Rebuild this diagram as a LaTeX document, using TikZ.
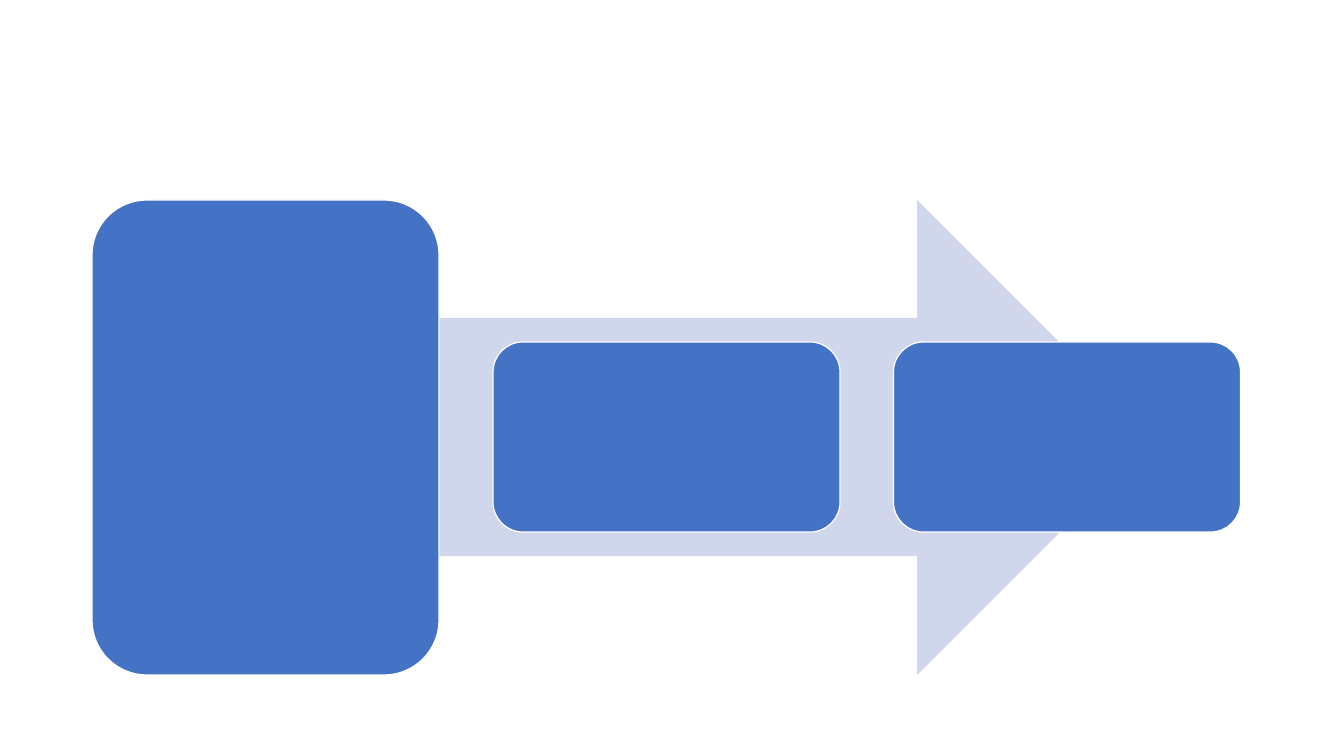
\documentclass[tikz,border=0pt]{standalone}
\usepackage{tikz}
\usetikzlibrary{calc}
\definecolor{boxblue}{HTML}{4472C4}
\definecolor{arrowgrey}{HTML}{D0D7EC}
\tikzset{
	bigbox/.style={fill=boxblue, draw=white, line width=0.12mm, rounded corners=0.55cm, minimum width=3.47cm, minimum height=4.75cm, inner sep=0pt},
	smallbox/.style={fill=boxblue, draw=white, line width=0.12mm, rounded corners=0.30cm, minimum width=3.47cm, minimum height=1.90cm, inner sep=0pt}
}

\begin{document}
\begin{tikzpicture}
		%%%%% START %%%%%
		
		\useasboundingbox (0, 0) rectangle (13.33, 7.5);
		
		\fill[arrowgrey] (4.39, 4.32) -- (9.17, 4.32) -- (9.17, 5.50) -- (11.545, 3.125) -- (9.17, 0.75) -- (9.17, 1.94) -- (4.39, 1.94) -- cycle;
		
		\node[bigbox] (start) at (2.655, 3.125) {};
		\node[smallbox] (stepone) at (6.665, 3.13) {};
		\node[smallbox] (steptwo) at (10.67, 3.13) {};
		
		%%%%% END %%%%%
	\end{tikzpicture}
\end{document}
